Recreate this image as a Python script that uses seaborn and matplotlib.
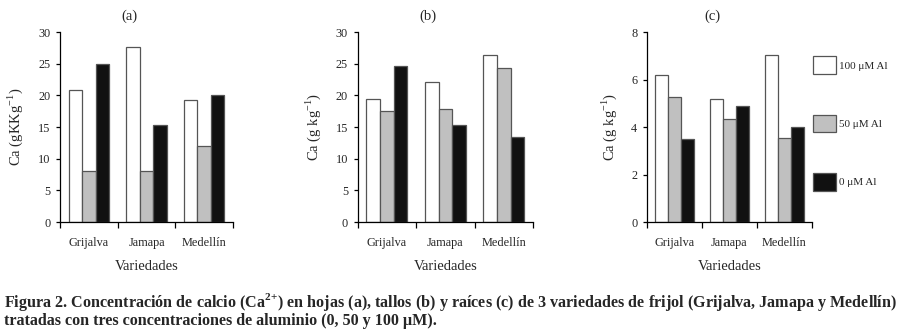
import matplotlib
matplotlib.use("Agg")
import matplotlib.pyplot as plt
from matplotlib.ticker import FixedLocator
import seaborn as sns
import pandas as pd

sns.set_theme(style="white")
plt.rcParams['font.family'] = ['Liberation Serif', 'DejaVu Serif']
plt.rcParams['mathtext.fontset'] = 'custom'
plt.rcParams['mathtext.rm'] = 'Liberation Serif'
plt.rcParams['mathtext.bf'] = 'Liberation Serif:bold'

# datos
variedades = ["Grijalva", "Jamapa", "Medellín"]
tratamientos = ["100 μM Al", "50 μM Al", "0 μM Al"]

hojas_100 = [20.8, 27.6, 19.3]
hojas_50 = [8.1, 8.1, 12.0]
hojas_0 = [24.9, 15.3, 20.0]

tallos_100 = [19.4, 22.1, 26.4]
tallos_50 = [17.5, 17.9, 24.3]
tallos_0 = [24.6, 15.3, 13.5]

raices_100 = [6.18, 5.17, 7.02]
raices_50 = [5.28, 4.34, 3.55]
raices_0 = [3.51, 4.88, 3.99]


def make_df(v100, v50, v0):
    rows = []
    for trat, vals in zip(tratamientos, [v100, v50, v0]):
        for var, v in zip(variedades, vals):
            rows.append({"Variedades": var, "Tratamiento": trat, "Ca": v})
    return pd.DataFrame(rows)


my_palette = ["#ffffff", "#c0c0c0", "#111111"]

fig = plt.figure(figsize=(9.01, 3.30), dpi=100)
bottom, top = 0.327, 0.903
ax_a = fig.add_axes([0.0666, bottom, 0.192, top - bottom])
ax_b = fig.add_axes([0.397, bottom, 0.1946, top - bottom])
ax_c = fig.add_axes([0.718, bottom, 0.183, top - bottom])

panels = [
    (ax_a, make_df(hojas_100, hojas_50, hojas_0), "Ca (gKKg$^{-1}$)", 30, [0, 5, 10, 15, 20, 25, 30], "(a)"),
    (ax_b, make_df(tallos_100, tallos_50, tallos_0), "Ca (g kg$^{-1}$)", 30, [0, 5, 10, 15, 20, 25, 30], "(b)"),
    (ax_c, make_df(raices_100, raices_50, raices_0), "Ca (g kg$^{-1}$)", 8, [0, 2, 4, 6, 8], "(c)"),
]

for ax, df, ylab, ymax, yt, tit in panels:
    sns.barplot(data=df, x="Variedades", y="Ca", hue="Tratamiento",
                order=variedades, hue_order=tratamientos,
                palette=my_palette, width=0.7, saturation=1,
                edgecolor="#555555", linewidth=0.9, ax=ax)
    ax.set_xlim(-0.5, 2.5)
    ax.set_ylim(0, ymax)
    ax.set_yticks(yt)
    ax.set_xticks([0, 1, 2])
    ax.set_xticklabels(variedades)
    ax.xaxis.set_minor_locator(FixedLocator([-0.5, 0.5, 1.5, 2.5]))
    ax.tick_params(axis="x", which="major", length=0, labelsize=8.8, pad=11)
    ax.tick_params(axis="x", which="minor", length=4, width=0.9, direction="out", bottom=True, color="black")
    ax.tick_params(axis="y", length=3, width=0.9, direction="out", left=True, labelsize=8.8, pad=4, color="black")
    for s in ["top", "right"]:
        ax.spines[s].set_visible(False)
    for s in ["left", "bottom"]:
        ax.spines[s].set_color("black")
        ax.spines[s].set_linewidth(0.9)
    ax.set_ylabel(ylab, fontsize=10.5, labelpad=9)
    ax.set_xlabel("Variedades", fontsize=10.5, labelpad=8)
    ax.set_title(tit, fontsize=10.5, pad=9, x=0.4)
    ax.get_legend().remove()

handles, labels = ax_c.get_legend_handles_labels()
fig.legend(handles, labels, loc="upper left", bbox_to_anchor=(0.902, 0.83),
           frameon=False, fontsize=8, handlelength=2.1, handleheight=2.1,
           labelspacing=3.65, handletextpad=0.25, borderpad=0, borderaxespad=0)

fig.text(0.004, 0.085,
         "Figura 2. Concentración de calcio (Ca$^{\\mathbf{2{+}}}$) en hojas (a), tallos (b) y raíces (c) de 3 variedades de frijol (Grijalva, Jamapa y Medellín)",
         fontsize=11.6, fontweight="bold", ha="left", va="center")
fig.text(0.004, 0.028,
         "tratadas con tres concentraciones de aluminio (0, 50 y 100 μM).",
         fontsize=11.6, fontweight="bold", ha="left", va="center")

fig.savefig("out.png", dpi=100)
